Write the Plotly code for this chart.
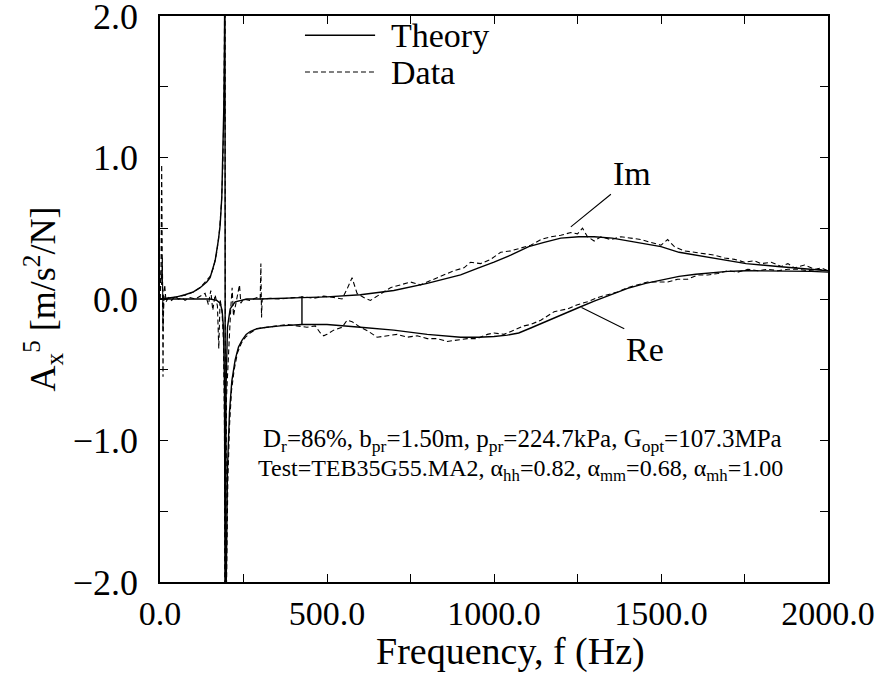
import plotly.graph_objects as go

# ---- Theory curves (frequency in Hz, accelerance in m/s^2/N) ----
theory_re_f = [0, 25, 50, 75, 100, 120, 140, 150, 165, 175, 180, 185, 188, 191, 193, 194.5,
               195.5, 198, 202, 208, 215, 225, 235, 246, 258, 270, 290, 320, 360, 425,
               500, 600, 700, 800, 900, 954, 1000, 1040, 1074, 1110, 1154, 1200, 1254, 1300,
               1354, 1400, 1454, 1500, 1554, 1604, 1650, 1700, 1755, 1850, 1950, 2000]
theory_re_a = [0.0, 0.005, 0.015, 0.03, 0.05, 0.08, 0.12, 0.15, 0.27, 0.42, 0.52, 0.72, 0.95,
               1.35, 1.8, 2.6,
               -2.6, -1.8, -1.2, -0.8, -0.58, -0.43, -0.34, -0.29, -0.25, -0.23, -0.21, -0.2,
               -0.19, -0.18,
               -0.18, -0.2, -0.22, -0.25, -0.27, -0.27, -0.265, -0.255, -0.24, -0.205, -0.16,
               -0.11, -0.06, -0.015, 0.035, 0.075, 0.11, 0.135, 0.16, 0.175, 0.187, 0.195,
               0.2, 0.2, 0.195, 0.19]

theory_im_f = [0, 100, 150, 170, 180, 186, 190, 193, 194.5, 196, 198, 202, 210, 225, 260,
               300, 425, 500, 600, 700, 800, 900, 954, 1000, 1050, 1104, 1150, 1200, 1254,
               1300, 1354, 1404, 1500, 1554, 1650, 1755, 1850, 1905, 2000]
theory_im_a = [0.0, 0.0, 0.0, -0.01, -0.03, -0.08, -0.2, -0.6, -2.6, -2.6, -0.6, -0.2, -0.07,
               -0.02, 0.0, 0.0, 0.01, 0.015, 0.03, 0.06, 0.11, 0.17, 0.22, 0.26, 0.31, 0.37,
               0.4, 0.43, 0.44, 0.44, 0.43, 0.41, 0.37, 0.33, 0.29, 0.25, 0.23, 0.22, 0.2]

# short vertical connector in the theory trace at 425 Hz
theory_step_f = [425, 425]
theory_step_a = [0.02, -0.18]

# ---- Measured data ----
data_im_f = [0, 3, 5, 7, 9, 11, 14, 18, 25, 35, 45, 55, 65, 75, 90, 105, 120, 135, 145, 152,
             158, 165, 172, 176, 180, 186, 190, 193, 194.5, 196.5, 199, 203, 207, 212, 216,
             220, 226, 232, 238, 242, 250, 270, 290, 300, 302, 304, 306, 330, 360, 400, 430,
             460, 490, 520, 545, 560, 575, 590, 610, 630, 650, 690, 720, 750, 780, 810, 845,
             880, 910, 930, 960, 990, 1020, 1050, 1080, 1110, 1140, 1170, 1200, 1230, 1250,
             1265, 1280, 1300, 1320, 1350, 1380, 1410, 1440, 1470, 1500, 1520, 1540, 1570,
             1600, 1630, 1660, 1690, 1720, 1750, 1780, 1800, 1830, 1860, 1880, 1900, 1930,
             1960, 1980, 2000]
data_im_a = [0.0, 0.15, 0.95, -0.1, -0.55, 0.05, 0.1, -0.02, 0.01, -0.01, 0.02, 0.0, 0.01,
             -0.01, 0.01, 0.0, 0.02, 0.04, -0.04, 0.06, -0.08, 0.03, -0.05, -0.35, 0.0, -0.1,
             -0.3, -0.9, -2.6, -2.6, -0.7, -0.45, -0.3, -0.06, 0.08, -0.12, -0.04, 0.02, 0.1,
             -0.03, 0.0, -0.01, 0.01, 0.0, 0.25, -0.13, 0.0, 0.005, 0.0, 0.01, 0.015, 0.005,
             0.02, 0.01, 0.0, 0.07, 0.15, 0.04, 0.01, -0.01, 0.02, 0.08, 0.1, 0.12, 0.1, 0.13,
             0.16, 0.2, 0.22, 0.26, 0.25, 0.28, 0.33, 0.34, 0.36, 0.38, 0.42, 0.44, 0.45,
             0.47, 0.46, 0.5, 0.44, 0.41, 0.44, 0.42, 0.44, 0.43, 0.42, 0.4, 0.38, 0.42, 0.37,
             0.34, 0.33, 0.32, 0.31, 0.29, 0.28, 0.26, 0.27, 0.25, 0.26, 0.23, 0.25, 0.22,
             0.24, 0.21, 0.22, 0.2]

data_re_f = [0, 3, 5, 7, 9, 12, 16, 25, 40, 60, 80, 100, 120, 140, 150, 160, 170, 178, 184,
             188, 191, 193, 194.8, 196.2, 199, 203, 208, 214, 222, 232, 244, 256, 270, 290,
             320, 350, 380, 410, 440, 465, 480, 490, 500, 520, 545, 560, 575, 600, 625, 650,
             680, 710, 740, 770, 800, 830, 860, 890, 920, 950, 980, 1000, 1030, 1060, 1090,
             1110, 1140, 1160, 1180, 1200, 1220, 1250, 1280, 1310, 1340, 1370, 1400, 1430,
             1460, 1490, 1520, 1550, 1580, 1610, 1640, 1670, 1700, 1730, 1760, 1790, 1820,
             1850, 1880, 1910, 1940, 1970, 2000]
data_re_a = [0.0, 0.2, 0.1, 0.3, -0.2, 0.02, 0.0, 0.005, 0.01, 0.02, 0.03, 0.05, 0.08, 0.13,
             0.16, 0.22, 0.33, 0.48, 0.68, 0.92, 1.3, 1.9, 2.6, -2.6, -1.9, -1.3, -0.9, -0.65,
             -0.5, -0.38, -0.31, -0.27, -0.24, -0.21, -0.2, -0.19, -0.18, -0.19, -0.2, -0.19,
             -0.24, -0.26, -0.25, -0.22, -0.2, -0.15, -0.16, -0.2, -0.23, -0.27, -0.26, -0.25,
             -0.27, -0.26, -0.28, -0.28, -0.3, -0.29, -0.28, -0.28, -0.25, -0.24, -0.25, -0.22,
             -0.19, -0.18, -0.15, -0.12, -0.09, -0.08, -0.07, -0.04, -0.02, 0.01, 0.03, 0.05,
             0.08, 0.1, 0.12, 0.12, 0.12, 0.14, 0.14, 0.17, 0.17, 0.18, 0.2, 0.19, 0.21, 0.2,
             0.21, 0.2, 0.21, 0.21, 0.2, 0.21, 0.2]

# ---- Axis ticks ----
x_tick_vals = [0, 500, 1000, 1500, 2000]
x_tick_text = ["0.0", "500.0", "1000.0", "1500.0", "2000.0"]
x_minor_vals = [250, 750, 1250, 1750]
y_tick_vals = [-2, -1, 0, 1, 2]
y_tick_text = ["\u22122.0", "\u22121.0", "0.0", "1.0", "2.0"]
y_minor_vals = [-1.5, -0.5, 0.5, 1.5]

FONT = "Liberation Serif"
SOLID = dict(color="black", width=1.4)
DASHED = dict(color="black", width=1.1, dash="5px,3px")

fig = go.Figure()
fig.add_trace(go.Scatter(x=data_re_f, y=data_re_a, mode="lines", line=DASHED, showlegend=False))
fig.add_trace(go.Scatter(x=data_im_f, y=data_im_a, mode="lines", line=DASHED, showlegend=False))
fig.add_trace(go.Scatter(x=theory_re_f, y=theory_re_a, mode="lines", line=SOLID, showlegend=False))
fig.add_trace(go.Scatter(x=theory_im_f, y=theory_im_a, mode="lines", line=SOLID, showlegend=False))
fig.add_trace(go.Scatter(x=theory_step_f, y=theory_step_a, mode="lines", line=SOLID, showlegend=False))

# legend keys drawn by hand so the line samples are long
fig.add_shape(type="line", xref="paper", yref="paper", x0=0.217, x1=0.322, y0=0.966, y1=0.966,
              line=dict(color="black", width=1.3))
fig.add_shape(type="line", xref="paper", yref="paper", x0=0.217, x1=0.322, y0=0.901, y1=0.901,
              line=dict(color="black", width=1.1, dash="5px,3px"))
fig.add_annotation(xref="paper", yref="paper", x=0.343, y=0.966, text="Theory", showarrow=False,
                   xanchor="left", yanchor="middle", font=dict(family=FONT, size=34, color="black"))
fig.add_annotation(xref="paper", yref="paper", x=0.343, y=0.901, text="Data", showarrow=False,
                   xanchor="left", yanchor="middle", font=dict(family=FONT, size=34, color="black"))

# curve labels with leader lines
fig.add_annotation(x=1230, y=0.51, ax=1350, ay=0.74, axref="x", ayref="y", text="Im",
                   showarrow=True, arrowhead=0, arrowwidth=1.1, arrowcolor="black", standoff=0,
                   xanchor="left", yanchor="bottom", font=dict(family=FONT, size=34, color="black"))
fig.add_annotation(x=1262, y=-0.06, ax=1390, ay=-0.21, axref="x", ayref="y", text="Re",
                   showarrow=True, arrowhead=0, arrowwidth=1.1, arrowcolor="black", standoff=0,
                   xanchor="left", yanchor="top", font=dict(family=FONT, size=34, color="black"))

# test parameters
fig.add_annotation(x=1084, y=-1.0, xref="x", yref="y", showarrow=False, xanchor="center",
                   text="D<sub>r</sub>=86%, b<sub>pr</sub>=1.50m, p<sub>pr</sub>=224.7kPa, "
                        "G<sub>opt</sub>=107.3MPa",
                   font=dict(family=FONT, size=25, color="black"))
fig.add_annotation(x=1078, y=-1.21, xref="x", yref="y", showarrow=False, xanchor="center",
                   text="Test=TEB35G55.MA2, \u03b1<sub>hh</sub>=0.82, \u03b1<sub>mm</sub>=0.68, "
                        "\u03b1<sub>mh</sub>=1.00",
                   font=dict(family=FONT, size=24, color="black"))

# x-axis title
fig.add_annotation(xref="paper", yref="paper", x=0.524, y=-0.122, xanchor="center",
                   yanchor="middle", showarrow=False, text="Frequency, f (Hz)",
                   font=dict(family=FONT, size=38, color="black"))

axis_common = dict(showline=True, linecolor="black", linewidth=1.5, mirror="ticks",
                   ticks="inside", ticklen=8, tickwidth=1, tickcolor="black",
                   showgrid=False, zeroline=False, automargin=False,
                   ticklabeloverflow="allow")

fig.update_xaxes(range=[0, 2000], tickvals=x_tick_vals, ticktext=x_tick_text,
                 tickfont=dict(family=FONT, size=34, color="black"),
                 minor=dict(tickvals=x_minor_vals, ticks="inside", ticklen=8, tickcolor="black"),
                 **axis_common)
fig.update_yaxes(range=[-2, 2], tickvals=y_tick_vals, ticktext=y_tick_text,
                 tickfont=dict(family=FONT, size=36, color="black"),
                 ticklabelstandoff=13,
                 minor=dict(tickvals=y_minor_vals, ticks="inside", ticklen=8, tickcolor="black"),
                 title=dict(text="A<sub>x</sub><sup>5</sup> [m/s<sup>2</sup>/N]",
                            font=dict(family=FONT, size=36, color="black"), standoff=6),
                 **axis_common)

fig.update_layout(width=878, height=674, margin=dict(l=160, r=50, t=16, b=92),
                  font=dict(family=FONT, color="black"),
                  plot_bgcolor="white", paper_bgcolor="white", showlegend=False)

fig.write_html("out.html")
